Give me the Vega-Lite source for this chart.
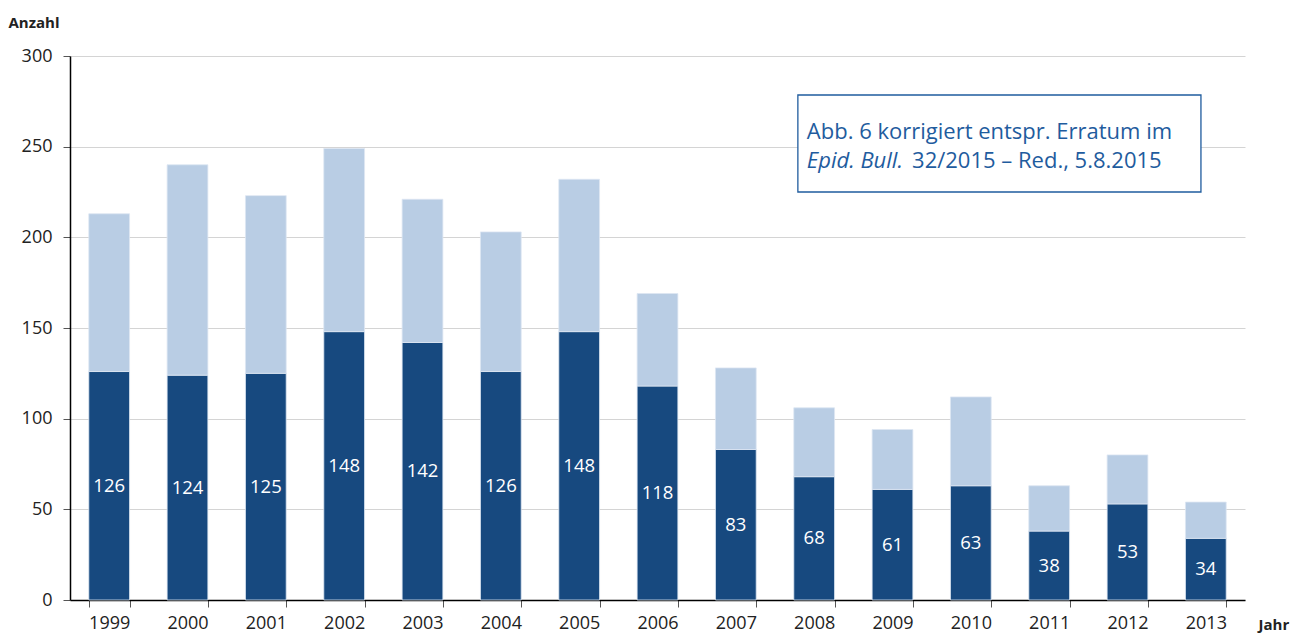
{
  "$schema": "https://vega.github.io/schema/vega-lite/v6.json",
  "width": 1175,
  "height": 544,
  "autosize": {"type": "none"},
  "padding": {"left": 70, "top": 56, "right": 56, "bottom": 33},
  "background": "white",
  "config": {"view": {"stroke": null}, "font": "Open Sans"},
  "data": {"values": [
    {"Jahr": "1999", "typ": "a", "n": 126}, {"Jahr": "1999", "typ": "b", "n": 87},
    {"Jahr": "2000", "typ": "a", "n": 124}, {"Jahr": "2000", "typ": "b", "n": 116},
    {"Jahr": "2001", "typ": "a", "n": 125}, {"Jahr": "2001", "typ": "b", "n": 98},
    {"Jahr": "2002", "typ": "a", "n": 148}, {"Jahr": "2002", "typ": "b", "n": 101},
    {"Jahr": "2003", "typ": "a", "n": 142}, {"Jahr": "2003", "typ": "b", "n": 79},
    {"Jahr": "2004", "typ": "a", "n": 126}, {"Jahr": "2004", "typ": "b", "n": 77},
    {"Jahr": "2005", "typ": "a", "n": 148}, {"Jahr": "2005", "typ": "b", "n": 84},
    {"Jahr": "2006", "typ": "a", "n": 118}, {"Jahr": "2006", "typ": "b", "n": 51},
    {"Jahr": "2007", "typ": "a", "n": 83}, {"Jahr": "2007", "typ": "b", "n": 45},
    {"Jahr": "2008", "typ": "a", "n": 68}, {"Jahr": "2008", "typ": "b", "n": 38},
    {"Jahr": "2009", "typ": "a", "n": 61}, {"Jahr": "2009", "typ": "b", "n": 33},
    {"Jahr": "2010", "typ": "a", "n": 63}, {"Jahr": "2010", "typ": "b", "n": 49},
    {"Jahr": "2011", "typ": "a", "n": 38}, {"Jahr": "2011", "typ": "b", "n": 25},
    {"Jahr": "2012", "typ": "a", "n": 53}, {"Jahr": "2012", "typ": "b", "n": 27},
    {"Jahr": "2013", "typ": "a", "n": 34}, {"Jahr": "2013", "typ": "b", "n": 20}
  ]},
  "encoding": {
    "x": {
      "field": "Jahr", "type": "nominal",
      "scale": {"paddingInner": 0.48, "paddingOuter": 0.24},
      "axis": {
        "title": "Jahr", "titleFontWeight": "bold", "titleFontSize": 15, "titleColor": "#222",
        "titleAlign": "left", "titleBaseline": "middle", "titleX": 1188, "titleY": 24, "titleAngle": 0,
        "labelAngle": 0, "labelFontSize": 18, "labelColor": "#222", "labelPadding": 7,
        "tickBand": "extent", "tickSize": 7, "tickColor": "#555", "domainColor": "#000", "domainWidth": 1.5
      }
    }
  },
  "layer": [
    {
      "mark": {"type": "bar", "stroke": "#dde6f2", "strokeWidth": 0.8},
      "encoding": {
        "y": {
          "field": "n", "type": "quantitative", "stack": "zero",
          "scale": {"domain": [0, 300]},
          "axis": {
            "values": [0, 50, 100, 150, 200, 250, 300], "title": "Anzahl",
            "titleFontWeight": "bold", "titleFontSize": 15, "titleColor": "#222",
            "titleAngle": 0, "titleAlign": "left", "titleBaseline": "middle", "titleX": -62, "titleY": -34,
            "labelFontSize": 18, "labelColor": "#222", "labelPadding": 11,
            "tickSize": 7, "tickColor": "#555", "domainColor": "#000", "domainWidth": 1.5,
            "gridColor": "#d4d4d4", "gridWidth": 1
          }
        },
        "color": {
          "field": "typ", "type": "nominal", "legend": null,
          "scale": {"domain": ["a", "b"], "range": ["#17497f", "#b9cde4"]}
        },
        "order": {"field": "typ", "type": "nominal", "sort": "ascending"}
      }
    },
    {
      "transform": [{"filter": "datum.typ === 'a'"}, {"calculate": "datum.n / 2", "as": "mid"}],
      "mark": {"type": "text", "color": "white", "fontSize": 18.5, "baseline": "middle"},
      "encoding": {
        "y": {"field": "mid", "type": "quantitative"},
        "text": {"field": "n", "type": "quantitative"}
      }
    },
    {
      "data": {"values": [{"a": 1}]},
      "mark": {"type": "rect", "fill": "white", "stroke": "#1f5c9e", "strokeWidth": 1.3},
      "encoding": {
        "x": {"datum": "2008", "bandPosition": 0.1},
        "x2": {"datum": "2013", "bandPosition": 0.38},
        "y": {"datum": 278.5},
        "y2": {"datum": 225}
      }
    },
    {
      "data": {"values": [{"t": "Abb. 6 korrigiert entspr. Erratum im"}]},
      "mark": {"type": "text", "align": "left", "baseline": "alphabetic", "fontSize": 22, "color": "#1f5c9e"},
      "encoding": {
        "x": {"datum": "2008", "bandPosition": 0.32},
        "y": {"datum": 254},
        "text": {"field": "t"}
      }
    },
    {
      "data": {"values": [{"t": "Epid. Bull."}]},
      "mark": {"type": "text", "align": "left", "baseline": "alphabetic", "fontSize": 22, "fontStyle": "italic", "color": "#1f5c9e"},
      "encoding": {
        "x": {"datum": "2008", "bandPosition": 0.32},
        "y": {"datum": 238},
        "text": {"field": "t"}
      }
    },
    {
      "data": {"values": [{"t": "32/2015 – Red., 5.8.2015"}]},
      "mark": {"type": "text", "align": "left", "baseline": "alphabetic", "fontSize": 22, "color": "#1f5c9e"},
      "encoding": {
        "x": {"datum": "2009", "bandPosition": 0.98},
        "y": {"datum": 238},
        "text": {"field": "t"}
      }
    }
  ]
}
